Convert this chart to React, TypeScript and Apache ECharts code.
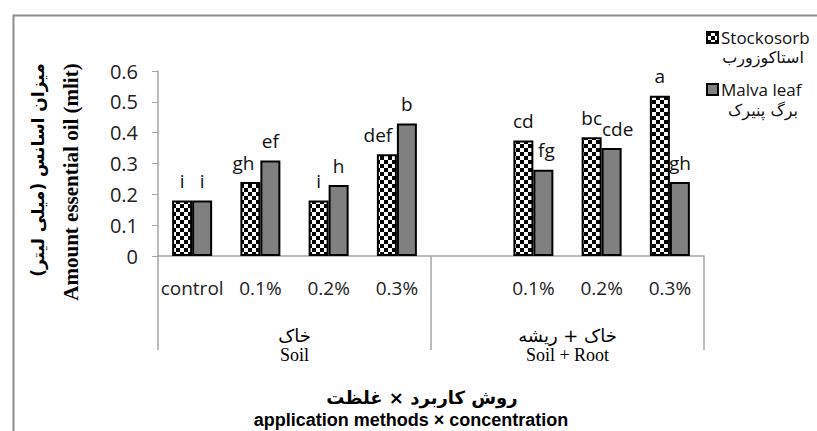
import React, { useEffect, useRef } from "react";
import * as echarts from "echarts";

// ---------- data ----------
const categories = ["control", "0.1%", "0.2%", "0.3%", "", "0.1%", "0.2%", "0.3%"];
const groups = ["خاک\nSoil", "خاک + ریشه\nSoil + Root"];
const groupsFa = ["خاک", "خاک + ریشه"];
const groupsEn = ["Soil", "Soil + Root"];
const seriesNames = ["Stockosorb", "Malva leaf"];
const seriesNamesFa = ["استاکوزورب", "برگ پنیرک"];
const stockosorb: (number | string)[] = [0.18, 0.24, 0.18, 0.33, "-", 0.375, 0.385, 0.52];
const malva: (number | string)[] = [0.18, 0.31, 0.23, 0.43, "-", 0.28, 0.35, 0.24];
const stockosorbLetters = ["i", "gh", "i", "def", "", "cd", "bc", "a"];
const malvaLetters = ["i", "ef", "h", "b", "", "fg", "cde", "gh"];
const yTicks = [0, 0.1, 0.2, 0.3, 0.4, 0.5, 0.6];
const yTitleFa = "میزان اسانس (میلی لیتر)";
const yTitleEn = "Amount essential oil (mlit)";
const xTitleFa = "روش کاربرد × غلظت";
const xTitleEn = "application methods × concentration";

// ---------- styles ----------
const stockShiftX = [0, -7, 0, -9, 0, 0, 0, 0];
const malvaShiftX = [0, 0, 0, 0, 0, 3, 6, 0];
const FONT = "Open Sans";
const FA_FONT = "DejaVu Sans";

const checker =
  "data:image/svg+xml;charset=utf-8," +
  encodeURIComponent(
    '<svg xmlns="http://www.w3.org/2000/svg" width="8" height="8"><rect width="8" height="8" fill="#fff"/><rect width="4" height="4" fill="#000"/><rect x="4" y="4" width="4" height="4" fill="#000"/></svg>'
  );

export default function App() {
  const ref = useRef<HTMLDivElement>(null);
  useEffect(() => {
    if (!ref.current) return;
    const chart = echarts.init(ref.current, null, { renderer: "svg" });
    const mkData = (vals: (number | string)[], letters: string[], shift: number[]) =>
      vals.map((v, i) => ({
        value: v,
        label: { formatter: letters[i], offset: [shift[i], 0] },
      }));
    const labelStyle = {
      show: true,
      position: "top" as const,
      distance: 10,
      fontFamily: FONT,
      fontSize: 19,
      color: "#111",
    };
    chart.setOption({
      animation: false,
      backgroundColor: "#fff",
      grid: { left: 158, right: 113, top: 71, bottom: 175, containLabel: false },
      legend: {
        orient: "vertical",
        left: 701,
        top: 24,
        itemWidth: 11,
        itemHeight: 11,
        itemGap: 35,
        icon: "rect",
        textStyle: { fontFamily: FONT, fontSize: 17, color: "#111", padding: [0, 0, 0, -2] },
        data: seriesNames,
      },
      xAxis: [
        {
          type: "category",
          data: categories,
          axisLine: { show: true, lineStyle: { color: "#a6a6a6", width: 1.5 } },
          axisTick: { show: false },
          axisLabel: { fontFamily: FONT, fontSize: 19, color: "#222", margin: 22, interval: 0 },
        },
        {
          type: "category",
          data: groups,
          position: "bottom",
          axisLine: { show: false },
          axisTick: { show: true, length: 94, lineStyle: { color: "#a6a6a6", width: 1.5 } },
          axisLabel: {
            margin: 70,
            interval: 0,
            formatter: (_: string, i: number) => `{fa|${groupsFa[i]}}\n{en|${groupsEn[i]}}`,
            rich: {
              fa: { fontFamily: FA_FONT, fontSize: 18, color: "#000", lineHeight: 19 },
              en: { fontFamily: "Liberation Serif", fontSize: 18, color: "#000", lineHeight: 19 },
            },
          },
        },
      ],
      yAxis: {
        type: "value",
        min: 0,
        max: 0.6,
        interval: 0.1,
        axisLine: { show: true, lineStyle: { color: "#a6a6a6", width: 1.5 } },
        axisTick: { show: true, length: 6, lineStyle: { color: "#a6a6a6" } },
        splitLine: { show: false },
        axisLabel: {
          fontFamily: FONT,
          fontSize: 20,
          color: "#222",
          margin: 20,
          formatter: (v: number) => {
            const t = yTicks.find((x) => Math.abs(x - v) < 1e-9);
            return t === undefined ? "" : String(t);
          },
        },
      },
      series: [
        {
          name: seriesNames[0],
          type: "bar",
          xAxisIndex: 0,
          barWidth: 20,
          barGap: "0%",
          data: mkData(stockosorb, stockosorbLetters, stockShiftX),
          itemStyle: {
            color: { image: checker, repeat: "repeat" },
            borderColor: "#000",
            borderWidth: 2,
          },
          label: labelStyle,
        },
        {
          name: seriesNames[1],
          type: "bar",
          xAxisIndex: 0,
          barWidth: 20,
          barGap: "0%",
          data: mkData(malva, malvaLetters, malvaShiftX),
          itemStyle: { color: "#808080", borderColor: "#000", borderWidth: 2 },
          label: labelStyle,
        },
      ],
      graphic: [
        {
          type: "rect",
          left: 11,
          top: 13,
          shape: { width: 900, height: 500 },
          style: { fill: "none", stroke: "#8c8c8c", lineWidth: 2 },
          silent: true,
        },
        {
          type: "text",
          x: 763,
          y: 57,
          style: {
            text: seriesNamesFa[0],
            fontFamily: FA_FONT,
            fontSize: 16,
            fill: "#111",
            align: "center",
            verticalAlign: "middle",
          },
        },
        {
          type: "text",
          x: 763,
          y: 110,
          style: {
            text: seriesNamesFa[1],
            fontFamily: FA_FONT,
            fontSize: 16,
            fill: "#111",
            align: "center",
            verticalAlign: "middle",
          },
        },
        {
          type: "text",
          x: 38,
          y: 170,
          rotation: Math.PI / 2,
          style: {
            text: yTitleFa,
            fontFamily: FA_FONT,
            fontSize: 17,
            fontWeight: "bold",
            fill: "#000",
            align: "center",
            verticalAlign: "middle",
          },
        },
        {
          type: "text",
          x: 71,
          y: 182,
          rotation: Math.PI / 2,
          style: {
            text: yTitleEn,
            fontFamily: "Liberation Serif",
            fontSize: 21,
            fontWeight: "bold",
            fill: "#000",
            align: "center",
            verticalAlign: "middle",
          },
        },
        {
          type: "text",
          x: 422,
          y: 397,
          style: {
            text: xTitleFa,
            fontFamily: FA_FONT,
            fontSize: 18,
            fontWeight: "bold",
            fill: "#000",
            align: "center",
            verticalAlign: "middle",
          },
        },
        {
          type: "text",
          x: 411,
          y: 420,
          style: {
            text: xTitleEn,
            fontFamily: "Liberation Sans",
            fontSize: 18,
            fontWeight: "bold",
            fill: "#000",
            align: "center",
            verticalAlign: "middle",
          },
        },
      ],
    });
    return () => chart.dispose();
  }, []);
  return (
    <div
      ref={ref}
      style={{ position: "fixed", left: 0, top: 0, width: 817, height: 431 }}
    />
  );
}
